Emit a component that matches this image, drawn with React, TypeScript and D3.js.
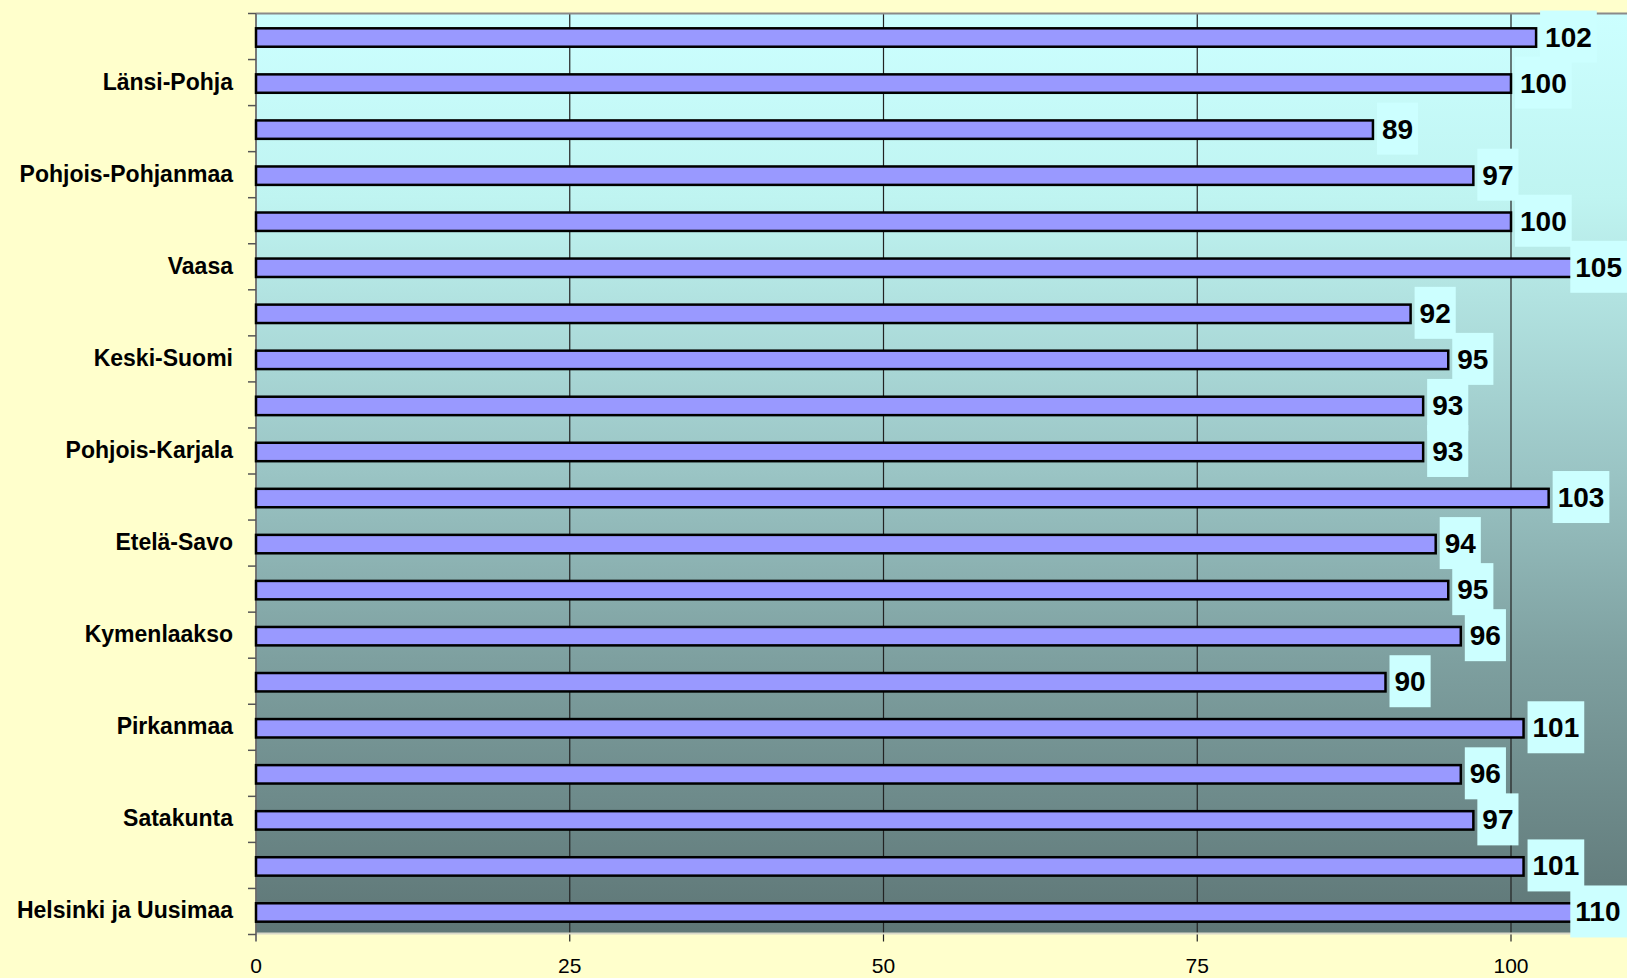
import React from "react";
import * as d3 from "d3";

// Categories from top to bottom (hospital districts)
const categories: string[] = [
  "Lappi",
  "Länsi-Pohja",
  "Kainuu",
  "Pohjois-Pohjanmaa",
  "Keski-Pohjanmaa",
  "Vaasa",
  "Etelä-Pohjanmaa",
  "Keski-Suomi",
  "Pohjois-Savo",
  "Pohjois-Karjala",
  "Itä-Savo",
  "Etelä-Savo",
  "Etelä-Karjala",
  "Kymenlaakso",
  "Päijät-Häme",
  "Pirkanmaa",
  "Kanta-Häme",
  "Satakunta",
  "Varsinais-Suomi",
  "Helsinki ja Uusimaa",
];

const values: number[] = [102, 100, 89, 97, 100, 105, 92, 95, 93, 93, 103, 94, 95, 96, 90, 101, 96, 97, 101, 110];

// Only every other category label is shown in the original
const shownLabels: string[] = [
  "Länsi-Pohja",
  "Pohjois-Pohjanmaa",
  "Vaasa",
  "Keski-Suomi",
  "Pohjois-Karjala",
  "Etelä-Savo",
  "Kymenlaakso",
  "Pirkanmaa",
  "Satakunta",
  "Helsinki ja Uusimaa",
];

const xTicks: number[] = [0, 25, 50, 75, 100];

const W = 1627;
const H = 978;

export default function App() {
  const left = 256;
  const plotTop = 13.5;
  const plotBottom = 933.5;

  const x = d3.scaleLinear().domain([0, 120]).range([left, left + 120 * 12.55]);
  const y = d3
    .scaleBand<string>()
    .domain(categories)
    .range([14.5, 935.5])
    .paddingInner(0.6)
    .paddingOuter(0.3);
  const step = y.step();
  const bw = y.bandwidth();

  const valFont = 28;
  const pad = 5;

  const font = "'Liberation Sans', Arial, Helvetica, sans-serif";

  // band boundaries for ticks
  const boundaries = d3.range(categories.length + 1).map((i) => 14.5 + i * step);

  React.useEffect(() => {
    document.body.style.margin = "0";
  }, []);

  return (
    <svg
      width={W}
      height={H}
      style={{ display: "block", position: "absolute", left: 0, top: 0 }}
      fontFamily={font}
    >
      <defs>
        <linearGradient id="bg" x1="0" y1="0" x2="0" y2="1">
          <stop offset="0" stopColor="#CCFFFF" />
          <stop offset="0.2" stopColor="#BFF4F1" />
          <stop offset="0.5" stopColor="#9AC4C4" />
          <stop offset="0.7" stopColor="#7EA0A0" />
          <stop offset="1" stopColor="#5E7676" />
        </linearGradient>
      </defs>
      <rect x={0} y={0} width={W} height={H} fill="#FFFFCC" />
      <rect x={left} y={plotTop} width={W - left + 10} height={plotBottom - plotTop} fill="url(#bg)" />

      {/* vertical gridlines */}
      {xTicks
        .filter((t) => t > 0)
        .map((t) => (
          <line key={"g" + t} x1={x(t)} x2={x(t)} y1={plotTop} y2={plotBottom + 8} stroke="#222" strokeWidth={1.2} />
        ))}

      {/* borders */}
      <line x1={left} x2={W} y1={plotTop} y2={plotTop} stroke="#8A8A8A" strokeWidth={2} />
      <line x1={left} x2={W} y1={plotBottom} y2={plotBottom} stroke="#D8D8C8" strokeWidth={2} />
      <line x1={left} x2={left} y1={plotTop} y2={plotBottom + 8} stroke="#6A6A6A" strokeWidth={1.8} />

      {/* category ticks */}
      {boundaries.map((b, i) => (
        <line key={"ct" + i} x1={left - 8} x2={left} y1={b - 1} y2={b - 1} stroke="#555" strokeWidth={1.5} />
      ))}

      {/* x tick labels */}
      {xTicks.map((t) => (
        <text key={"xl" + t} x={x(t)} y={973} textAnchor="middle" fontSize={21} fill="#000">
          {t}
        </text>
      ))}

      {/* category labels */}
      {categories.map((c) =>
        shownLabels.includes(c) ? (
          <text
            key={"cl" + c}
            x={233}
            y={(y(c) as number) + bw / 2 + 6}
            textAnchor="end"
            fontSize={23}
            fontWeight="bold"
            fill="#000"
          >
            {c}
          </text>
        ) : null
      )}

      {/* bars */}
      {categories.map((c, i) => (
        <rect
          key={"b" + c}
          x={x(0)}
          y={y(c) as number}
          width={x(values[i]) - x(0)}
          height={bw}
          fill="#9999FF"
          stroke="#000"
          strokeWidth={2.5}
        />
      ))}

      {/* value labels */}
      {categories.map((c, i) => {
        const v = values[i];
        const txt = String(v);
        const tw = txt.length * 0.556 * valFont;
        const boxW = tw + 2 * pad;
        const bx = Math.min(x(v) + 4, W - boxW);
        const cy = (y(c) as number) + bw / 2;
        return (
          <g key={"v" + c}>
            <rect x={bx} y={cy - 1 - 26} width={boxW} height={52} fill="#CCFFFF" />
            <text x={bx + pad} y={cy + 9} fontSize={valFont} fontWeight="bold" fill="#000">
              {txt}
            </text>
          </g>
        );
      })}
    </svg>
  );
}
